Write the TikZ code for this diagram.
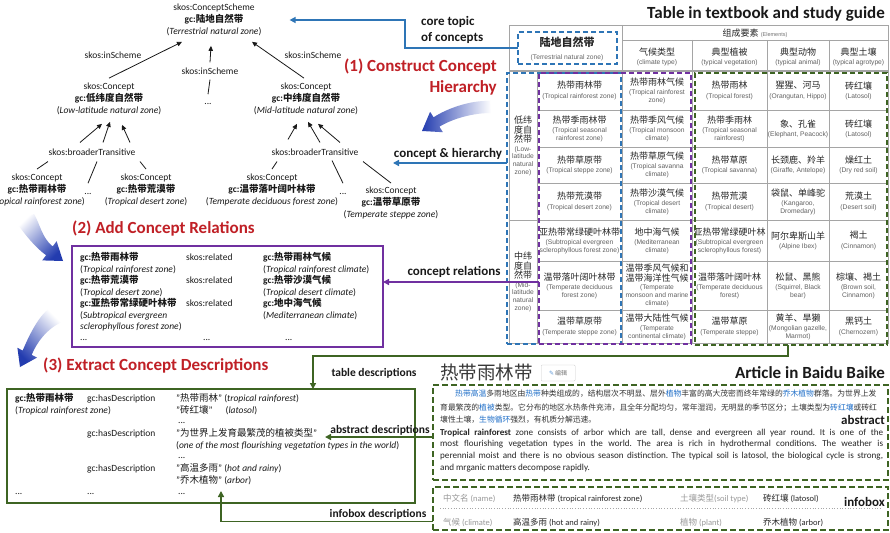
\documentclass[tikz,border=0pt]{standalone}
\usepackage{fontspec}
\setmainfont{Carlito}
\newfontfamily\cjk{Noto Sans CJK SC}
\newfontfamily\arialf{Liberation Sans}
\newfontfamily\dejavu{DejaVu Sans}
\usetikzlibrary{arrows.meta}
\definecolor{oblue}{RGB}{46,117,182}
\definecolor{opurple}{RGB}{112,48,160}
\definecolor{ogreen}{RGB}{62,100,35}
\definecolor{ored}{RGB}{192,32,38}
\definecolor{ablue}{RGB}{35,60,175}
\definecolor{tgray}{RGB}{165,165,165}
\definecolor{lnk}{RGB}{30,110,200}
\newcommand\zh[1]{{\cjk #1}}
\newcommand\lk[1]{{\color{lnk}#1}}
\newcommand\tz[1]{{\cjk\fontsize{9}{10}\selectfont\color{black!85}#1}}
\newcommand\fsT{\fontsize{9.5}{11.7}\selectfont}
\frenchspacing
\begin{document}
\begin{tikzpicture}[x=1pt,y=-1pt,
  tt/.style={inner sep=0pt, align=center, font=\fsT, text=black!90},
  lt/.style={inner sep=0pt, anchor=base west, font=\fsT, text=black!90},
  tarr/.style={-{Triangle[length=5pt,width=4.5pt]}, line width=0.8pt, black!90},
  tln/.style={line width=0.8pt, black!90},
  redhead/.style={inner sep=0pt, font=\fontsize{17}{20.5}\selectfont\bfseries, text=ored},
  ttl/.style={inner sep=0pt, font=\fontsize{17}{20}\selectfont\bfseries, text=black!90},
  lab/.style={inner sep=0pt, font=\fontsize{13}{15.5}\selectfont\bfseries, text=black!90},
  slab/.style={inner sep=0pt, font=\fontsize{11.5}{14}\selectfont\bfseries, text=black!90},
  barr/.style={draw=oblue, line width=1.5pt, -{Triangle[length=6pt,width=6pt]}},
  parr/.style={draw=opurple, line width=1.5pt, -{Triangle[length=6pt,width=6pt]}},
  garr/.style={draw=ogreen, line width=1.5pt, -{Triangle[length=6pt,width=6pt]}},
  dbox/.style={inner sep=0pt, outer sep=0pt, anchor=north west, line width=1.8pt, dash pattern=on 5pt off 3pt},
  grid/.style={draw=tgray, line width=0.8pt},
  cell/.style={inner sep=0pt, align=center, font=\arialf\fontsize{6.7}{7.7}\selectfont, text=black!62},
  ib/.style={inner sep=0pt, anchor=base west, font=\fontsize{8.5}{10}\selectfont, text=black!85},
  ibg/.style={ib, text=black!40},
  abz/.style={inner sep=0pt, anchor=west, font=\cjk\fontsize{7.8}{9}\selectfont, text=black!80},
  aben/.style={inner sep=0pt, anchor=west, font=\fontsize{9.1}{11}\selectfont, text=black!85},
]
\useasboundingbox (0,0) rectangle (890,532);
\fill[white] (0,0) rectangle (890,532);

% ---------------- tree ----------------
\node[tt] (root) at (214,20) {skos:ConceptScheme\\\textbf{gc:\zh{陆地自然带}}\\(\textit{Terrestrial natural zone})};
\node[tt] (low) at (109,99) {skos:Concept\\\textbf{gc:\zh{低纬度自然带}}\\(\textit{Low-latitude natural zone})};
\node[tt] (mid) at (306,99) {skos:Concept\\\textbf{gc:\zh{中纬度自然带}}\\(\textit{Mid-latitude natural zone})};
\node[tt] (d0) at (208,104) {...};
\node[tt] (il) at (113,55) {skos:inScheme};
\node[tt] (im) at (210,71) {skos:inScheme};
\node[tt] (ir) at (313,55) {skos:inScheme};
\draw[tarr] ([yshift=5pt]low.north) -- ([xshift=-32pt,yshift=-6pt]root.south);
\draw[tarr] ([yshift=5pt]im.north) -- ([xshift=-3pt,yshift=-10pt]root.south);
\draw[tln] ([yshift=-5pt]im.south) -- ([yshift=9pt]d0.north);
\draw[tarr] ([xshift=-2pt,yshift=5pt]mid.north) -- ([xshift=38pt,yshift=-6pt]root.south);

\node[tt] (bl) at (92,152) {skos:broaderTransitive};
\node[tt] (br) at (315,152) {skos:broaderTransitive};
\node[tt] (lc) at (37,190) {skos:Concept\\\textbf{gc:\zh{热带雨林带}}\\(\textit{Tropical rainforest zone})};
\node[tt] (rc) at (146,190) {skos:Concept\\\textbf{gc:\zh{热带荒漠带}}\\(\textit{Tropical desert zone})};
\node[tt] (dl) at (88,194) {...};
\node[tt] (lc2) at (272,190) {skos:Concept\\\textbf{gc:\zh{温带落叶阔叶林带}}\\(\textit{Temperate deciduous forest zone})};
\node[tt] (dr) at (343,194) {...};
\node[tt] (rc2) at (391,203) {skos:Concept\\\textbf{gc:\zh{温带草原带}}\\(\textit{Temperate steppe zone})};

\draw[tarr] ([xshift=-12pt,yshift=6pt]bl.north) -- ([xshift=-7pt,yshift=-9pt]low.south);
\draw[tarr] ([xshift=11pt,yshift=6pt]bl.north) -- ([xshift=1pt,yshift=-7pt]low.south);
\draw[tarr] ([xshift=38pt,yshift=6pt]bl.north) -- ([xshift=13pt,yshift=-10pt]low.south);
\draw[tln] ([xshift=-44pt,yshift=-6pt]bl.south) -- ([yshift=5pt]lc.north);
\draw[tln] ([xshift=5pt,yshift=-6pt]bl.south) -- ([yshift=10pt]dl.north);
\draw[tln] ([xshift=48pt,yshift=-6pt]bl.south) -- ([yshift=5pt]rc.north);

\draw[tarr] ([xshift=-27pt,yshift=9pt]br.north) -- ([xshift=-9pt,yshift=-9pt]mid.south);
\draw[tarr] ([xshift=5pt,yshift=6pt]br.north) -- ([xshift=2pt,yshift=-7pt]mid.south);
\draw[tarr] ([xshift=25pt,yshift=6pt]br.north) -- ([xshift=12pt,yshift=-9pt]mid.south);
\draw[tln] ([xshift=-38pt,yshift=-6pt]br.south) -- ([yshift=5pt]lc2.north);
\draw[tln] ([xshift=17pt,yshift=-5pt]br.south) -- ([yshift=10pt]dr.north);
\draw[tln] ([xshift=48pt,yshift=-6pt]br.south) -- ([yshift=4pt]rc2.north);

% ---------------- headings ----------------
\node[redhead, align=right, anchor=east] (h1) at (497,77) {(1) Construct Concept\\Hierarchy};
\node[redhead, anchor=west] (h2) at (72,229) {(2) Add Concept Relations};
\node[redhead, anchor=west] (h3) at (43,366) {(3) Extract Concept Descriptions};
\node[ttl, anchor=east] (ttab) at (885,14) {Table in textbook and study guide};
\node[ttl, anchor=east] (tart) at (885,373) {Article in Baidu Baike};

% swooshes
\path[left color=ablue, right color=white] (490,101) .. controls (470,100) and (446,109) .. (433.6,117.3) -- (430.1,111.8) -- (422,131) -- (442.9,132.2) -- (439.4,126.7) .. controls (452,119) and (472,113) .. (491,113) -- cycle;
\path[top color=white, bottom color=ablue, shading angle=45] (34,214) .. controls (40,224) and (42,238) .. (52.7,246.4) -- (56.6,241.2) -- (63,261) -- (42.2,260.4) -- (46.1,255.2) .. controls (36,248) and (26,236) .. (16,222) -- cycle;
\path[top color=white, bottom color=ablue, shading angle=-45] (50,308) .. controls (38,316) and (28,338) .. (22.7,350.5) -- (17.4,347.8) -- (20,367) -- (37,357.6) -- (31.7,354.9) .. controls (36,344) and (46,329) .. (62,322) -- cycle;

% ---------------- table ----------------
\draw[grid] (509,25) -- (888,25) -- (888,343) -- (509,343) -- cycle;
\draw[grid] (622,40) -- (888,40);
\draw[grid, line width=1.2pt] (509,71) -- (888,71);
\draw[grid] (622,25) -- (622,343);
\foreach \xx in {692,767,829} {\draw[grid] (\xx,40) -- (\xx,343);}
\draw[grid] (537,71) -- (537,343);
\foreach \yy in {110,147,183,261,310} {\draw[grid] (537,\yy) -- (888,\yy);}
\draw[grid] (509,220) -- (888,220);

\node[inner sep=0pt, align=center] (hdrtxt) at (567,49) {{\cjk\bfseries\fontsize{11}{13}\selectfont\color{black!85}陆地自然带}\\[1pt]{\arialf\fontsize{6.7}{7.7}\selectfont\color{black!60}(Terrestrial natural zone)}};
\node[inner sep=0pt] (elem) at (755,33) {\tz{组成要素} {\arialf\fontsize{5.5}{6}\selectfont\color{black!55}(Elements)}};
\node[cell] (hc1) at (657,57) {\tz{气候类型}\\[1.5pt](climate type)};
\node[cell] (hc2) at (729.5,57) {\tz{典型植被}\\[1.5pt](typical vegetation)};
\node[cell] (hc3) at (798,57) {\tz{典型动物}\\[1.5pt](typical animal)};
\node[cell] (hc4) at (858.5,57) {\tz{典型土壤}\\[1.5pt](typical agrotype)};

\node[cell] (glow) at (523,146) {\tz{低纬}\\\tz{度自}\\\tz{然带}\\[1pt](Low-\\latitude\\natural\\zone)};
\node[cell] (gmid) at (523,282) {\tz{中纬}\\\tz{度自}\\\tz{然带}\\[1pt](Mid-\\latitude\\natural\\zone)};

\node[cell] (c11) at (579.5,90.5) {\tz{热带雨林带}\\[1.5pt](Tropical rainforest zone)};
\node[cell] (c12) at (657,90.5) {\tz{热带雨林气候}\\[1.5pt](Tropical rainforest\\zone)};
\node[cell] (c13) at (729.5,90.5) {\tz{热带雨林}\\[1.5pt](Tropical forest)};
\node[cell] (c14) at (798,90.5) {\tz{猩猩、河马}\\[1.5pt](Orangutan, Hippo)};
\node[cell] (c15) at (858.5,90.5) {\tz{砖红壤}\\[1.5pt](Latosol)};

\node[cell] (c21) at (579.5,128.5) {\tz{热带季雨林带}\\[1.5pt](Tropical seasonal\\rainforest zone)};
\node[cell] (c22) at (657,128.5) {\tz{热带季风气候}\\[1.5pt](Tropical monsoon\\climate)};
\node[cell] (c23) at (729.5,128.5) {\tz{热带季雨林}\\[1.5pt](Tropical seasonal\\rainforest)};
\node[cell] (c24) at (798,128.5) {\tz{象、孔雀}\\[1.5pt](Elephant, Peacock)};
\node[cell] (c25) at (858.5,128.5) {\tz{砖红壤}\\[1.5pt](Latosol)};

\node[cell] (c31) at (579.5,165) {\tz{热带草原带}\\[1.5pt](Tropical steppe zone)};
\node[cell] (c32) at (657,165) {\tz{热带草原气候}\\[1.5pt](Tropical savanna\\climate)};
\node[cell] (c33) at (729.5,165) {\tz{热带草原}\\[1.5pt](Tropical savanna)};
\node[cell] (c34) at (798,165) {\tz{长颈鹿、羚羊}\\[1.5pt](Giraffe, Antelope)};
\node[cell] (c35) at (858.5,165) {\tz{燥红土}\\[1.5pt](Dry red soil)};

\node[cell] (c41) at (579.5,201.5) {\tz{热带荒漠带}\\[1.5pt](Tropical desert zone)};
\node[cell] (c42) at (657,201.5) {\tz{热带沙漠气候}\\[1.5pt](Tropical desert\\climate)};
\node[cell] (c43) at (729.5,201.5) {\tz{热带荒漠}\\[1.5pt](Tropical desert)};
\node[cell] (c44) at (798,201.5) {\tz{袋鼠、单峰驼}\\[1.5pt](Kangaroo,\\Dromedary)};
\node[cell] (c45) at (858.5,201.5) {\tz{荒漠土}\\[1.5pt](Desert soil)};

\node[cell] (c51) at (579.5,240.5) {\tz{亚热带常绿硬叶林带}\\[1.5pt](Subtropical evergreen\\sclerophyllous forest zone)};
\node[cell] (c52) at (657,240.5) {\tz{地中海气候}\\[1.5pt](Mediterranean\\climate)};
\node[cell] (c53) at (729.5,240.5) {\tz{亚热带常绿硬叶林}\\[1.5pt](Subtropical evergreen\\sclerophyllous forest)};
\node[cell] (c54) at (798,240.5) {\tz{阿尔卑斯山羊}\\[1.5pt](Alpine Ibex)};
\node[cell] (c55) at (858.5,240.5) {\tz{褐土}\\[1.5pt](Cinnamon)};

\node[cell] (c61) at (579.5,285.5) {\tz{温带落叶阔叶林带}\\[1.5pt](Temperate deciduous\\forest zone)};
\node[cell] (c62) at (657,285.5) {\tz{温带季风气候和}\\\tz{温带海洋性气候}\\[1pt](Temperate\\monsoon and marine\\climate)};
\node[cell] (c63) at (729.5,285.5) {\tz{温带落叶阔叶林}\\[1.5pt](Temperate deciduous\\forest)};
\node[cell] (c64) at (798,285.5) {\tz{松鼠、黑熊}\\[1.5pt](Squirrel, Black\\bear)};
\node[cell] (c65) at (858.5,285.5) {\tz{棕壤、褐土}\\[1.5pt](Brown soil,\\Cinnamon)};

\node[cell] (c71) at (579.5,326.5) {\tz{温带草原带}\\[1.5pt](Temperate steppe zone)};
\node[cell] (c72) at (657,326.5) {\tz{温带大陆性气候}\\[1.5pt](Temperate\\continental climate)};
\node[cell] (c73) at (729.5,326.5) {\tz{温带草原}\\[1.5pt](Temperate steppe)};
\node[cell] (c74) at (798,326.5) {\tz{黄羊、旱獭}\\[1.5pt](Mongolian gazelle,\\Marmot)};
\node[cell] (c75) at (858.5,326.5) {\tz{黑钙土}\\[1.5pt](Chernozem)};

% dashed boxes in table
\node[dbox, draw=oblue, minimum width=99pt, minimum height=32pt] (hdr) at (518,32) {};
\node[dbox, draw=oblue, minimum width=114pt, minimum height=271pt] (bcol) at (507,73) {};
\node[dbox, draw=opurple, minimum width=152pt, minimum height=271pt] (pcol) at (539,73) {};
\node[dbox, draw=ogreen, minimum width=192pt, minimum height=272pt] (gcol) at (695,73) {};

% ---------------- relations box ----------------
\node[inner sep=0pt, outer sep=0pt, anchor=north west, draw=opurple, line width=1.5pt, minimum width=311pt, minimum height=101pt] (relbox) at (72,246) {};
\node[lt] (r1a) at (80,260) {\textbf{gc:\zh{热带雨林带}}};
\node[lt] (r1b) at (186,260) {skos:related};
\node[lt] (r1c) at (263,260) {\textbf{gc:\zh{热带雨林气候}}};
\node[lt] (r2a) at (80,272) {(\textit{Tropical rainforest zone})};
\node[lt] (r2c) at (263,272) {(\textit{Tropical rainforest climate})};
\node[lt] (r3a) at (80,283.5) {\textbf{gc:\zh{热带荒漠带}}};
\node[lt] (r3b) at (186,283.5) {skos:related};
\node[lt] (r3c) at (263,283.5) {\textbf{gc:\zh{热带沙漠气候}}};
\node[lt] (r4a) at (80,295) {(\textit{Tropical desert zone})};
\node[lt] (r4c) at (263,295) {(\textit{Tropical desert climate})};
\node[lt] (r5a) at (80,306.5) {\textbf{gc:\zh{亚热带常绿硬叶林带}}};
\node[lt] (r5b) at (186,306.5) {skos:related};
\node[lt] (r5c) at (263,306.5) {\textbf{gc:\zh{地中海气候}}};
\node[lt] (r6a) at (80,318) {(\textit{Subtropical evergreen}};
\node[lt] (r6c) at (263,318) {(\textit{Mediterranean climate})};
\node[lt] (r7a) at (80,329.5) {\textit{sclerophyllous forest zone})};
\node[lt] (r8a) at (80,340) {...};
\node[lt] (r8b) at (203,340) {...};
\node[lt] (r8c) at (285,340) {...};

% ---------------- extract box ----------------
\node[inner sep=0pt, outer sep=0pt, anchor=north west, draw=ogreen, line width=1.5pt, minimum width=408pt, minimum height=114pt] (exbox) at (7,389) {};
\node[lt] (e1a) at (15,401) {\textbf{gc:\zh{热带雨林带}}};
\node[lt] (e1b) at (87,401) {gc:hasDescription};
\node[lt] (q1) at (176,401) {"\zh{热带雨林}" (\textit{tropical rainforest})};
\node[lt] (e2a) at (15,413) {(\textit{Tropical rainforest zone})};
\node[lt] (q2) at (176,413) {"\zh{砖红壤}"\hspace{13pt}(\textit{latosol})};
\node[lt] (e3) at (178,423.5) {...};
\node[lt] (e4b) at (87,436) {gc:hasDescription};
\node[lt] (q3) at (176,436) {"\zh{为世界上发育最繁茂的植被类型}"};
\node[lt] (q4) at (176,448) {(\textit{one of the most flourishing vegetation types in the world})};
\node[lt] (e6) at (178,458.5) {...};
\node[lt] (e7b) at (87,471) {gc:hasDescription};
\node[lt] (q5) at (176,471) {"\zh{高温多雨}" (\textit{hot and rainy})};
\node[lt] (q6) at (176,483) {"\zh{乔木植物}" (\textit{arbor})};
\node[lt] (e9a) at (15,494.5) {...};
\node[lt] (e9b) at (87,494.5) {...};
\node[lt] (e9c) at (178,494.5) {...};

% ---------------- article ----------------
\node[inner sep=0pt, anchor=west, text=black!78] (tit) at (440,372) {\cjk\fontsize{18.5}{20}\selectfont 热带雨林带};
\node[draw=black!20, rounded corners=1pt, inner sep=0pt, minimum width=34pt, minimum height=16pt, anchor=west] (edit) at (541,373) {\fontsize{6}{7}\selectfont{\dejavu\color{lnk!70}✎}\,{\cjk\color{black!55}编辑}};

\node[dbox, draw=ogreen, dash pattern=on 6pt off 3pt, minimum width=455pt, minimum height=95pt] (absbox) at (433,385) {};
\node[abz] (ab1) at (455,394) {\lk{热带高温}多雨地区由\lk{热带}种类组成的，结构层次不明显、层外\lk{植物}丰富的高大茂密而终年常绿的\lk{乔木植物}群落。为世界上发};
\node[abz] (ab2) at (440,407.5) {育最繁茂的\lk{植被}类型。它分布的地区水热条件充沛，且全年分配均匀，常年湿润，无明显的季节区分；土壤类型为\lk{砖红壤}或砖红};
\node[abz] (ab3) at (440,420) {壤性土壤，\lk{生物循环}强烈，有机质分解迅速。};
\node[lab, anchor=east] (abst) at (885,420) {abstract};
\node[aben] (ae1) at (440,433) {\makebox[443pt][s]{\textbf{Tropical rainforest} zone consists of arbor which are tall, dense and evergreen all year round. It is one of the}};
\node[aben] (ae2) at (440,444.5) {\makebox[443pt][s]{most flourishing vegetation types in the world. The area is rich in hydrothermal conditions. The weather is}};
\node[aben] (ae3) at (440,456) {\makebox[443pt][s]{perennial moist and there is no obvious season distinction. The typical soil is latosol, the biological cycle is strong,}};
\node[aben] (ae4) at (440,468) {and mrganic matters decompose rapidly.};

\node[dbox, draw=ogreen, dash pattern=on 6pt off 3pt, minimum width=455pt, minimum height=43pt] (infobox) at (433,487) {};
\draw[black!35, dotted, line width=0.7pt] ([xshift=7pt]infobox.west) -- ([xshift=-7pt]infobox.east);
\node[ibg] (i1a) at (443,501) {\zh{中文名} (name)};
\node[ib] (i1b) at (513,501) {\zh{热带雨林带} (tropical rainforest zone)};
\node[ibg] (i1c) at (680,501) {\zh{土壤类型}(soil type)};
\node[ib] (i1d) at (763,501) {\zh{砖红壤} (latosol)};
\node[lab, anchor=east] (infl) at (885,502) {infobox};
\node[ibg] (i2a) at (443,525) {\zh{气候} (climate)};
\node[ib] (i2b) at (513,525) {\zh{高温多雨} (hot and rainy)};
\node[ibg] (i2c) at (680,525) {\zh{植物} (plant)};
\node[ib] (i2d) at (763,525) {\zh{乔木植物} (arbor)};

% ---------------- connectors ----------------
\node[lab, align=left, anchor=west] (core) at (421,30) {core topic\\of concepts};
\draw[barr] (hdr.west) -- ++(-113,0) |- ([xshift=28pt]root.east);
\node[lab] (chl) at (448,154) {concept \& hierarchy};
\coordinate (chend) at (393,163);
\draw[barr] (bcol.west |- chend) -- (chend);
\node[lab] (crl) at (454,272) {concept relations};
\coordinate (relpt) at ([yshift=14.5pt]relbox.east);
\draw[parr] (pcol.west |- relpt) -- (relpt);
\node[slab] (tdl) at (374,373) {table descriptions};
\draw[garr] ([xshift=-3pt]gcol.south) -- ++(0,11) -| ([xshift=102pt]exbox.north);
\node[slab] (adl) at (380,430) {abstract descriptions};
\coordinate (absend) at (325,437);
\draw[garr] (absbox.west |- absend) -- (absend);
\node[slab] (idl) at (378,514) {infobox descriptions};
\coordinate (infend) at (221,491);
\draw[garr] ([yshift=-13pt]infobox.west) -| (infend);
\end{tikzpicture}
\end{document}
